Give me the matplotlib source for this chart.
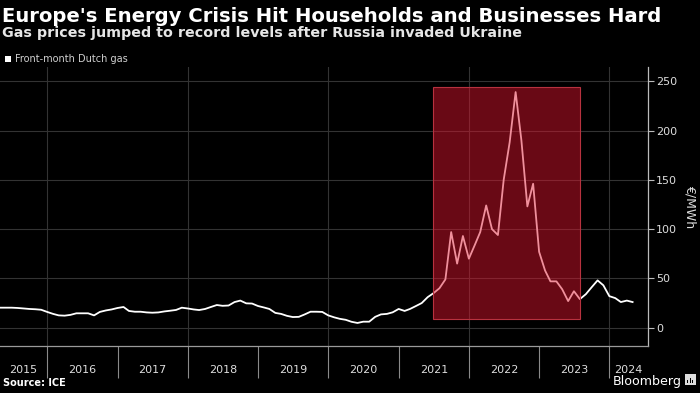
import numpy as np
import pandas as pd
import matplotlib
matplotlib.use("Agg")
from matplotlib import pyplot as plt
from matplotlib.patches import Rectangle


# Front-month Dutch TTF gas, monthly, EUR/MWh
dates = pd.date_range("2015-05-01", periods=109, freq="MS")
gas = [
    20.3, 20.3, 20.3, 20.0, 19.5, 19.0, 18.7, 18.2,
    16.0, 14.0, 12.5, 12.2, 13.0, 14.6, 14.6, 14.6, 12.5, 16.0, 17.5, 18.5,
    20.0, 21.0, 17.0, 16.2, 16.2, 15.5, 15.2, 15.5, 16.5, 17.2, 18.0, 20.3,
    19.5, 18.5, 17.9, 19.0, 21.0, 23.0, 22.2, 22.5, 26.0, 27.5, 24.7, 24.5,
    22.0, 20.5, 19.0, 15.0, 14.0, 12.0, 10.8, 11.0, 13.5, 16.2, 16.2, 16.0,
    12.5, 10.5, 9.0, 8.0, 6.0, 4.8, 6.1, 6.1, 11.0, 13.5, 14.0, 15.6,
    19.0, 17.0, 19.0, 22.0, 25.0, 31.0, 35.0, 40.0, 49.0, 97.0, 65.0, 93.0,
    70.0, 84.0, 97.0, 124.0, 100.0, 94.0, 150.0, 188.0, 239.0, 190.0, 123.0, 146.0,
    77.0, 58.0, 47.0, 47.0, 39.0, 27.0, 37.0, 29.0, 34.0, 41.0, 48.0, 43.0,
    32.0, 30.0, 26.0, 27.5, 26.0,
]

years = list(range(2015, 2025))
grid_years = [2016, 2018, 2020, 2022, 2024]
yticks = [0, 50, 100, 150, 200, 250]

# highlighted crisis window
crisis_start, crisis_end = pd.Timestamp("2021-06-27"), pd.Timestamp("2023-08-04")
crisis_low, crisis_high = 9.1, 244.4

x_left, x_right = pd.Timestamp("2015-05-01"), pd.Timestamp("2024-07-20")

plt.rcParams["font.family"] = ["DejaVu Sans"]

fig = plt.figure(figsize=(7, 3.93), dpi=100, facecolor="black")
ax = fig.add_axes([0.0, 0.1196, 0.9257, 0.7099], facecolor="black")

ax.plot(dates, gas, color="white", lw=1.3, zorder=3)

ax.add_patch(Rectangle(
    (matplotlib.dates.date2num(crisis_start), crisis_low),
    matplotlib.dates.date2num(crisis_end) - matplotlib.dates.date2num(crisis_start),
    crisis_high - crisis_low,
    facecolor=(0.88, 0.08, 0.18, 0.47), edgecolor="#b8323f", lw=0.8, zorder=4))

ax.set_xlim(x_left, x_right)
ax.set_ylim(-18.56, 264.4)

# gridlines
ax.set_yticks(yticks)
ax.yaxis.grid(True, color="#333333", lw=0.8)
for gy in grid_years:
    ax.axvline(pd.Timestamp(f"{gy}-01-01"), color="#333333", lw=0.8, zorder=1)
ax.set_axisbelow(True)

# x axis: long ticks at year boundaries, labels centred in each year
ax.set_xticks([pd.Timestamp(f"{y}-01-01") for y in years[1:]])
ax.set_xticklabels([])
ax.tick_params(axis="x", which="major", length=23, width=0.8, color="#8a8a8a", direction="out")
centres = []
for y in years:
    a = max(pd.Timestamp(f"{y}-01-01"), x_left)
    b = min(pd.Timestamp(f"{y + 1}-01-01"), x_right)
    centres.append(a + (b - a) / 2)
ax.set_xticks(centres, minor=True)
ax.set_xticklabels([str(y) for y in years], minor=True)
ax.tick_params(axis="x", which="minor", length=0, pad=14, labelsize=8, labelcolor="#dddddd")

# y axis on the right
ax.yaxis.tick_right()
ax.yaxis.set_label_position("right")
ax.tick_params(axis="y", length=4, width=0.8, color="#bbbbbb", labelsize=8,
               labelcolor="#dddddd", pad=2)
ax.set_ylabel("€/MWh", rotation=270, color="#dddddd", fontsize=9, labelpad=14)

for s in ["top", "left"]:
    ax.spines[s].set_visible(False)
ax.spines["bottom"].set_color("#9a9a9a")
ax.spines["right"].set_color("#bbbbbb")
ax.spines["bottom"].set_linewidth(0.9)
ax.spines["right"].set_linewidth(0.9)

# titles
fig.text(0.003, 0.945, "Europe's Energy Crisis Hit Households and Businesses Hard",
         color="white", fontsize=14.1, fontweight="bold", va="baseline")
fig.text(0.003, 0.905, "Gas prices jumped to record levels after Russia invaded Ukraine",
         color="#e6e6e6", fontsize=10.3, fontweight="bold", va="baseline")

# legend
fig.patches.append(Rectangle((0.007, 0.843), 0.0085, 0.015, transform=fig.transFigure,
                             facecolor="white", edgecolor="none"))
fig.text(0.021, 0.843, "Front-month Dutch gas", color="#cfcfcf", fontsize=7, va="baseline")

# footer
fig.text(0.004, 0.017, "Source: ICE", color="white", fontsize=7, fontweight="bold", va="baseline")
fig.text(0.876, 0.02, "Bloomberg", color="white", fontsize=9.1, va="baseline")
fig.patches.append(Rectangle((0.978, 0.02), 0.016, 0.029, transform=fig.transFigure,
                             facecolor="#dddddd", edgecolor="none"))
for i, h in enumerate([0.008, 0.013, 0.006]):
    fig.patches.append(Rectangle((0.9815 + i * 0.0035, 0.026), 0.002, h,
                                 transform=fig.transFigure, facecolor="black",
                                 edgecolor="none"))

fig.savefig("out.png", dpi=100, facecolor="black")
